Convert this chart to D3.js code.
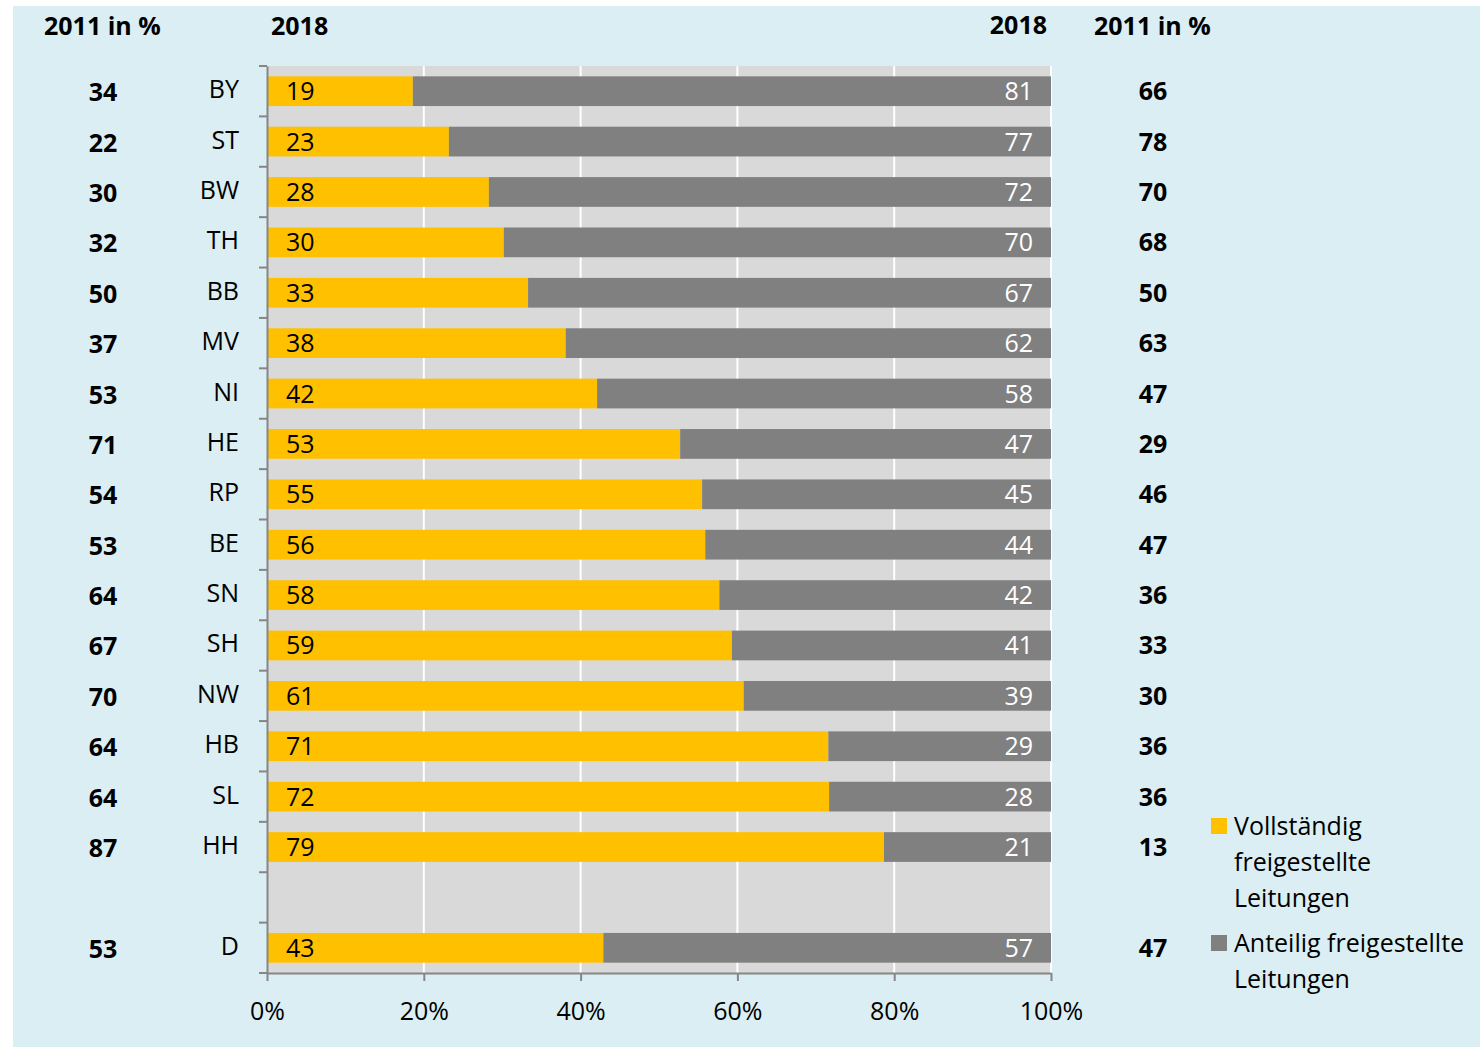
<!DOCTYPE html>
<html>
<head>
<meta charset="utf-8">
<script src="https://cdn.jsdelivr.net/npm/d3@7"></script>
<style>
  body { margin: 0; background: #fff; }
  svg text { font-family: "Open Sans", "Noto Sans", sans-serif; }
</style>
</head>
<body>
<svg id="chart" width="1480" height="1049"></svg>
<script>
// states, top to bottom ("" is the empty row before D)
var states = ["BY", "ST", "BW", "TH", "BB", "MV", "NI", "HE", "RP", "BE", "SN", "SH", "NW", "HB", "SL", "HH", "", "D"];
// share of fully released school heads 2018 (bar lengths in %)
var vollstaendig = [18.6, 23.2, 28.3, 30.2, 33.3, 38.1, 42.1, 52.7, 55.5, 55.9, 57.7, 59.3, 60.8, 71.6, 71.7, 78.7, null, 42.9];
// printed labels 2018
var vollLabels = [19, 23, 28, 30, 33, 38, 42, 53, 55, 56, 58, 59, 61, 71, 72, 79, null, 43];
var anteilLabels = [81, 77, 72, 70, 67, 62, 58, 47, 45, 44, 42, 41, 39, 29, 28, 21, null, 57];
// 2011 values, left = fully, right = partly
var voll2011 = [34, 22, 30, 32, 50, 37, 53, 71, 54, 53, 64, 67, 70, 64, 64, 87, null, 53];
var anteil2011 = [66, 78, 70, 68, 50, 63, 47, 29, 46, 47, 36, 33, 30, 36, 36, 13, null, 47];
var xTicks = [0, 20, 40, 60, 80, 100];

var svg = d3.select("#chart");
var fs = 25;

svg.append("rect")
  .attr("x", 13).attr("y", 6)
  .attr("width", 1467).attr("height", 1041)
  .attr("fill", "#daeef3");

var pLeft = 267, pRight = 1051, pTop = 66, pBottom = 973;

var x = d3.scaleLinear().domain([0, 100]).range([pLeft, pRight]);
var idx = d3.range(states.length);
var y = d3.scaleBand().domain(idx).range([pTop, pBottom]).paddingInner(0.41).paddingOuter(0.205);
var slot = d3.scaleBand().domain(idx).range([pTop, pBottom]);

// plot area
svg.append("rect")
  .attr("x", pLeft).attr("y", pTop)
  .attr("width", pRight - pLeft).attr("height", pBottom - pTop)
  .attr("fill", "#d9d9d9");

svg.selectAll(".grid")
  .data(xTicks.slice(1))
  .enter().append("line")
  .attr("x1", function(d) { return x(d); })
  .attr("x2", function(d) { return x(d); })
  .attr("y1", pTop).attr("y2", pBottom)
  .attr("stroke", "#fff").attr("stroke-width", 2);

var filled = idx.filter(function(i) { return vollstaendig[i] != null; });

svg.selectAll(".voll")
  .data(filled)
  .enter().append("rect")
  .attr("x", x(0))
  .attr("y", function(i) { return y(i); })
  .attr("height", y.bandwidth())
  .attr("width", function(i) { return x(vollstaendig[i]) - x(0); })
  .attr("fill", "#ffc000");

svg.selectAll(".anteil")
  .data(filled)
  .enter().append("rect")
  .attr("x", function(i) { return x(vollstaendig[i]); })
  .attr("y", function(i) { return y(i); })
  .attr("height", y.bandwidth())
  .attr("width", function(i) { return x(100) - x(vollstaendig[i]); })
  .attr("fill", "#808080");

function midY(i) { return slot(i) + slot.bandwidth() / 2; }

filled.forEach(function(i) {
  var cy = midY(i);
  svg.append("text").attr("x", 286).attr("y", cy).attr("dy", "0.36em")
    .attr("font-size", fs).attr("fill", "#000").text(vollLabels[i]);
  svg.append("text").attr("x", 1033).attr("y", cy).attr("dy", "0.36em")
    .attr("text-anchor", "end").attr("font-size", fs).attr("fill", "#fff").text(anteilLabels[i]);
  svg.append("text").attr("x", 239).attr("y", cy - 2).attr("dy", "0.36em")
    .attr("text-anchor", "end").attr("font-size", fs).attr("fill", "#000").text(states[i]);
  svg.append("text").attr("x", 103).attr("y", cy + 1).attr("dy", "0.36em")
    .attr("text-anchor", "middle").attr("font-size", fs).attr("font-weight", "bold").text(voll2011[i]);
  svg.append("text").attr("x", 1153).attr("y", cy).attr("dy", "0.36em")
    .attr("text-anchor", "middle").attr("font-size", fs).attr("font-weight", "bold").text(anteil2011[i]);
});

// axes
var yAxis = d3.axisLeft(slot).tickSize(0).tickFormat("");
var yG = svg.append("g").attr("transform", "translate(" + pLeft + ",0)").call(yAxis);
yG.select(".domain").attr("stroke", "#868686").attr("stroke-width", 2);
svg.selectAll(".ytick")
  .data(d3.range(states.length + 1))
  .enter().append("line")
  .attr("x1", pLeft - 8).attr("x2", pLeft)
  .attr("y1", function(d) { return pTop + d * slot.step(); })
  .attr("y2", function(d) { return pTop + d * slot.step(); })
  .attr("stroke", "#868686").attr("stroke-width", 2);

var xAxis = d3.axisBottom(x).tickValues(xTicks).tickSize(8).tickSizeOuter(0)
  .tickFormat(function(d) { return d + "%"; });
var xG = svg.append("g").attr("transform", "translate(0," + pBottom + ")").call(xAxis);
xG.select(".domain").attr("stroke", "#868686").attr("stroke-width", 2);
xG.selectAll(".tick line").attr("stroke", "#868686").attr("stroke-width", 2);
xG.selectAll(".tick text").attr("font-size", fs).attr("fill", "#000").attr("dy", "1.45em")
  .style("font-family", "'Open Sans', sans-serif");

// headers
svg.append("text").attr("x", 44).attr("y", 35).attr("font-size", fs).attr("font-weight", "bold").text("2011 in %");
svg.append("text").attr("x", 271).attr("y", 35).attr("font-size", fs).attr("font-weight", "bold").text("2018");
svg.append("text").attr("x", 1047).attr("y", 34).attr("text-anchor", "end").attr("font-size", fs).attr("font-weight", "bold").text("2018");
svg.append("text").attr("x", 1094).attr("y", 35).attr("font-size", fs).attr("font-weight", "bold").text("2011 in %");

// legend
var legend = [
  { color: "#ffc000", lines: ["Vollständig", "freigestellte", "Leitungen"], y: 826 },
  { color: "#808080", lines: ["Anteilig freigestellte", "Leitungen"], y: 943 }
];
legend.forEach(function(l) {
  svg.append("rect").attr("x", 1211).attr("y", l.y - 8).attr("width", 16).attr("height", 16).attr("fill", l.color);
  l.lines.forEach(function(t, k) {
    svg.append("text").attr("x", 1234).attr("y", l.y + k * 36).attr("dy", "0.36em")
      .attr("font-size", fs).attr("fill", "#000").text(t);
  });
});
</script>
</body>
</html>
